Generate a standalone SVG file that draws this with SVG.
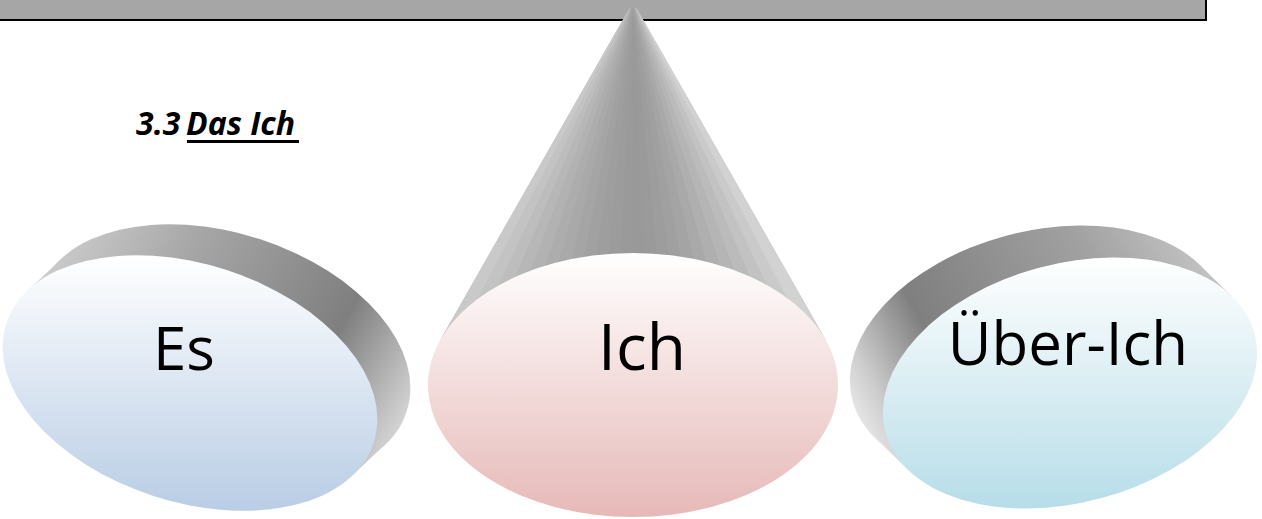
<svg xmlns="http://www.w3.org/2000/svg" width="1262" height="519" viewBox="0 0 1262 519">
<style>
.lbl{font-family:"Open Sans","Noto Sans","DejaVu Sans",sans-serif;fill:#000;text-anchor:middle;}
.head{font-family:"Open Sans","Noto Sans","DejaVu Sans",sans-serif;font-weight:bold;font-style:italic;font-size:32px;fill:#000;}
</style>
<defs>
<linearGradient id="gEs" x1="0" y1="0" x2="0" y2="1"><stop offset="0" stop-color="#ffffff"/><stop offset="1" stop-color="#b9cde5"/></linearGradient>
<linearGradient id="gIch" x1="0" y1="0" x2="0" y2="1"><stop offset="0" stop-color="#ffffff"/><stop offset="1" stop-color="#e6b9b8"/></linearGradient>
<linearGradient id="gUe" x1="0" y1="0" x2="0" y2="1"><stop offset="0" stop-color="#ffffff"/><stop offset="1" stop-color="#b7dde8"/></linearGradient>
<linearGradient id="bandEs" gradientUnits="userSpaceOnUse" x1="40" y1="250" x2="420" y2="470">
<stop offset="0" stop-color="#cfcfcf"/><stop offset="0.3" stop-color="#a6a6a6"/><stop offset="0.68" stop-color="#7f7f7f"/><stop offset="0.9" stop-color="#cfcfcf"/><stop offset="1" stop-color="#f2f2f2"/>
</linearGradient>
<linearGradient id="bandUe" gradientUnits="userSpaceOnUse" x1="1235" y1="280" x2="870" y2="472">
<stop offset="0" stop-color="#c8c8c8"/><stop offset="0.3" stop-color="#a0a0a0"/><stop offset="0.72" stop-color="#7f7f7f"/><stop offset="0.9" stop-color="#cfcfcf"/><stop offset="1" stop-color="#f2f2f2"/>
</linearGradient>
<clipPath id="coneClip"><path d="M 440.6 339.5 L 628.7 9.6 A 5 5 0 0 1 637.3 9.6 L 825.4 339.5 Z"/></clipPath>
</defs>
<rect x="0" y="0" width="1262" height="519" fill="#ffffff"/>

<g id="top-bar">
<rect x="-5" y="-5" width="1211" height="25" fill="#a6a6a6" stroke="#000" stroke-width="2"/>
</g>

<g id="heading">
<text class="head" x="136" y="135">3.3<tspan x="186">Das Ich</tspan></text>
<rect x="187" y="140" width="112" height="3" fill="#000"/>
</g>

<g id="node-es">
<g fill="url(#bandEs)">
<path d="M 39.45 292.36 A 193 118 18 1 0 406.55 411.64 A 193 118 18 1 0 39.45 292.36 Z"/>
<polygon points="27.6,290.7 60.6,259.7 385.4,444.3 352.4,475.3"/>
</g>
<path d="M 6.45 323.36 A 193 118 18 1 0 373.55 442.64 A 193 118 18 1 0 6.45 323.36 Z" fill="url(#gEs)"/>
<text class="lbl" x="184" y="370" font-size="60">Es</text>
</g>

<g id="node-ich">
<g clip-path="url(#coneClip)">
<polygon points="633,2 430,340 836,340" fill="#aaaaaa"/>
<polygon points="633,2 430,340 457.1,340" fill="#c9c9c9"/>
<polygon points="633,2 456.1,340 473.2,340" fill="#c3c3c3"/>
<polygon points="633,2 472.2,340 489.2,340" fill="#bdbdbd"/>
<polygon points="633,2 488.2,340 505.2,340" fill="#b7b7b7"/>
<polygon points="633,2 504.2,340 521.3,340" fill="#b2b2b2"/>
<polygon points="633,2 520.3,340 537.3,340" fill="#adadad"/>
<polygon points="633,2 536.3,340 553.3,340" fill="#a9a9a9"/>
<polygon points="633,2 552.3,340 569.4,340" fill="#a5a5a5"/>
<polygon points="633,2 568.4,340 585.4,340" fill="#a1a1a1"/>
<polygon points="633,2 584.4,340 601.4,340" fill="#9e9e9e"/>
<polygon points="633,2 600.4,340 617.5,340" fill="#9c9c9c"/>
<polygon points="633,2 616.5,340 633.5,340" fill="#9a9a9a"/>
<polygon points="633,2 632.5,340 649.5,340" fill="#999999"/>
<polygon points="633,2 648.5,340 665.6,340" fill="#9a9a9a"/>
<polygon points="633,2 664.6,340 681.6,340" fill="#9d9d9d"/>
<polygon points="633,2 680.6,340 697.6,340" fill="#a0a0a0"/>
<polygon points="633,2 696.6,340 713.7,340" fill="#a4a4a4"/>
<polygon points="633,2 712.7,340 729.7,340" fill="#a9a9a9"/>
<polygon points="633,2 728.7,340 745.7,340" fill="#afafaf"/>
<polygon points="633,2 744.7,340 761.8,340" fill="#b5b5b5"/>
<polygon points="633,2 760.8,340 777.8,340" fill="#bbbbbb"/>
<polygon points="633,2 776.8,340 793.8,340" fill="#c2c2c2"/>
<polygon points="633,2 792.8,340 809.9,340" fill="#cacaca"/>
<polygon points="633,2 808.9,340 836,340" fill="#d2d2d2"/>
</g>
<ellipse cx="633" cy="385" rx="205" ry="132" fill="url(#gIch)"/>
<text class="lbl" x="642" y="370" font-size="64">Ich</text>
</g>

<g id="node-ueber-ich">
<g fill="url(#bandUe)">
<path d="M 852.5 400.4 A 191 119 -15 1 0 1221.5 301.6 A 191 119 -15 1 0 852.5 400.4 Z"/>
<polygon points="1232.2,296.6 1199.2,264.6 874.8,437.4 907.8,469.4"/>
</g>
<path d="M 885.5 432.4 A 191 119 -15 1 0 1254.5 333.6 A 191 119 -15 1 0 885.5 432.4 Z" fill="url(#gUe)"/>
<text class="lbl" x="1068" y="365" font-size="60">Über-Ich</text>
</g>

<g id="connectors"></g>
</svg>
